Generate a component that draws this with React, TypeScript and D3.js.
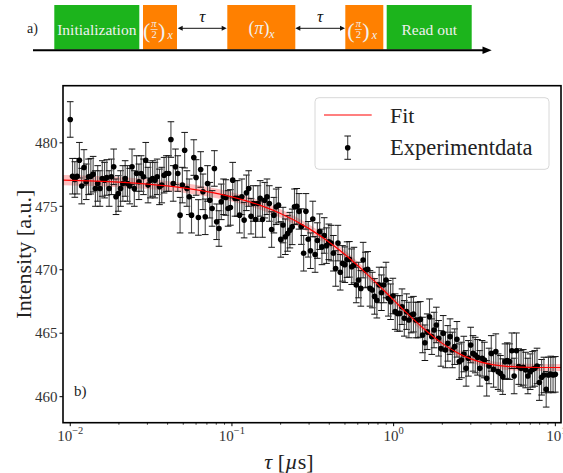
import React from 'react';
import * as d3 from 'd3';

const W = 563;
const H = 473;
const FONT = '"Liberation Serif", "DejaVu Serif", serif';
const fs = (size: number, extra: any = {}) => ({ fontFamily: FONT, fontSize: size + 'px', ...extra });

// ---- Data ----
const tauFirst = 0.01;
const tauLast = 10;
const intensity = [
  481.84, 477.37, 477.11, 477.37, 478.63, 476.59, 478.06, 476.93, 477.32, 477.37,
  477.53, 476.40, 476.80, 476.40, 477.19, 477.06, 477.27, 476.40, 477.32, 478.11,
  475.75, 476.01, 476.40, 476.80, 477.19, 476.80, 476.59, 478.11, 476.40, 477.58,
  476.93, 477.58, 477.32, 478.63, 476.67, 477.06, 477.19, 477.06, 477.32, 476.53,
  476.67, 477.45, 477.58, 477.58, 480.26, 476.80, 478.11, 477.58, 474.30, 476.67,
  479.42, 476.40, 475.75, 474.30, 478.84, 477.27, 474.12, 477.90, 476.14, 474.17,
  476.80, 475.48, 474.83, 477.98, 473.78, 473.25, 475.35, 475.75, 475.69, 474.83,
  474.91, 477.06, 475.62, 475.62, 474.30, 475.75, 473.91, 476.06, 476.40, 474.22,
  475.22, 473.96, 475.22, 475.62, 473.96, 475.48, 475.75, 475.22, 473.17, 474.30,
  474.96, 475.09, 472.39, 473.52, 472.60, 472.86, 473.12, 473.38, 474.96,
  475.0, 474.6, 473.4, 471.3, 474.6, 472.4, 471.5, 474.0, 471.2, 472.3,
  473.0, 471.8, 472.7, 471.9, 472.2, 472.1, 471.3, 470.1, 472.1, 469.8,
  470.5, 470.4, 470.8,
  470.82, 470.24, 470.37, 468.80, 469.19, 468.53, 470.76, 469.98, 470.03, 468.53,
  468.40, 467.90, 467.60, 468.80, 468.19, 468.80, 469.19, 467.75, 467.48, 467.93,
  466.70, 466.56, 466.56, 467.09, 466.17, 466.70, 466.04, 466.43, 466.50, 466.04,
  466.04, 466.09, 464.86, 464.25, 465.12, 466.30, 464.73, 465.25, 465.65, 464.60,
  463.80, 464.99,
  463.68, 464.20, 464.73, 463.68, 463.94, 464.52, 462.76, 462.89, 463.36, 462.23,
  463.02, 464.07, 463.41, 463.28, 463.10, 462.23, 463.02, 462.89, 461.45, 462.42,
  463.41, 462.15, 463.55, 461.97, 461.84, 461.58, 462.76, 462.84, 462.76, 463.62,
  461.63, 463.62, 462.37, 462.23, 462.31, 462.10, 461.63, 461.97, 462.15, 462.23,
  462.42, 461.11, 461.53, 461.71, 460.58, 461.71, 461.79, 461.71, 461.76,
];
const errorHalf = 1.4;

const fitTau = [0.009, 0.02, 0.03, 0.05, 0.1, 0.15, 0.2, 0.3, 0.4, 0.5, 0.7, 1.0, 1.2, 1.5, 2, 2.5, 3, 4, 5, 6, 8, 11];
const fitIntensity = [477.06, 476.90, 476.75, 476.45, 475.74, 475.07, 474.43, 473.24, 472.17, 471.20, 469.54, 467.61, 466.62, 465.47, 464.20, 463.43, 462.98, 462.54, 462.39, 462.33, 462.30, 462.30];
const fitBand = [0.4, 0.4, 0.39, 0.38, 0.36, 0.35, 0.34, 0.33, 0.32, 0.32, 0.31, 0.3, 0.3, 0.3, 0.29, 0.29, 0.29, 0.28, 0.28, 0.28, 0.28, 0.28];

const yTicks = [460, 465, 470, 475, 480];
const xMajor = [0.01, 0.1, 1, 10];
const xMajorExp = ['\u22122', '\u22121', '0', '1'];

const BOXTXT = '#f0f0f0';

function FracLabel({ cx }: { cx: number }) {
  return (
    <g fill={BOXTXT}>
      <text x={cx - 17} y={37.5} style={fs(22)}>(</text>
      <text x={cx - 6} y={27} textAnchor="middle" style={fs(10.5, { fontStyle: 'italic' })}>π</text>
      <line x1={cx - 9.5} x2={cx - 2.5} y1={29.5} y2={29.5} stroke={BOXTXT} strokeWidth={0.7} />
      <text x={cx - 6} y={38} textAnchor="middle" style={fs(10.5)}>2</text>
      <text x={cx - 2} y={37.5} style={fs(22)}>)</text>
      <text x={cx + 7.5} y={39} style={fs(12, { fontStyle: 'italic' })}>x</text>
    </g>
  );
}

export default function App() {
  const n = intensity.length;
  const l0 = Math.log10(tauFirst);
  const l1 = Math.log10(tauLast);
  const tau = intensity.map((_, i) => Math.pow(10, l0 + (i * (l1 - l0)) / (n - 1)));

  const left = 63, right = 561, top = 85.7, bottom = 422.7;
  const x = d3.scaleLog().domain([0.00902, 10.84]).range([left, right]);
  const y = d3.scaleLinear().domain([457.95, 484.5]).range([bottom, top]);

  const fitPts = fitTau.map((t, i) => ({ t, v: fitIntensity[i], b: fitBand[i] }));
  const line = d3.line<any>().x(d => x(d.t)).y(d => y(d.v)).curve(d3.curveMonotoneX);
  const area = d3.area<any>().x(d => x(d.t)).y0(d => y(d.v - d.b)).y1(d => y(d.v + d.b)).curve(d3.curveMonotoneX);

  const minor = x.ticks().filter(t => !xMajor.some(m => Math.abs(m - t) / m < 1e-6));

  const green = '#1cb41c';
  const orange = '#ff8000';

  return (
    <svg width={W} height={H} style={{ position: 'absolute', left: 0, top: 0, background: '#fff' }}>
      {/* ---- Pulse sequence ---- */}
      <text x={27} y={33} style={fs(14)} fill="#222">a)</text>
      <rect x={54.3} y={5} width={85} height={44.5} fill={green} />
      <text x={96.8} y={34.5} textAnchor="middle" style={fs(15.5)} fill={BOXTXT}>Initialization</text>
      <rect x={143} y={5} width={34} height={44.5} fill={orange} />
      <FracLabel cx={160} />
      <rect x={227.3} y={5} width={68} height={44.5} fill={orange} />
      <g fill={BOXTXT}>
        <text x={248.5} y={34} style={fs(18)}>(<tspan style={{ fontStyle: 'italic' }}>π</tspan>)</text>
        <text x={269} y={38} style={fs(12.5, { fontStyle: 'italic' })}>x</text>
      </g>
      <rect x={345.3} y={5} width={38} height={44.5} fill={orange} />
      <FracLabel cx={364.3} />
      <rect x={386.7} y={5} width={85} height={44.5} fill={green} />
      <text x={429.2} y={34.5} textAnchor="middle" style={fs(15.5)} fill={BOXTXT}>Read out</text>

      {[[177.7, 226.7], [295.3, 345]].map(([a, b], i) => (
        <g key={i}>
          <line x1={a + 3} x2={b - 3} y1={28.3} y2={28.3} stroke="#111" strokeWidth={1} />
          <path d={`M${a},28.3 L${a + 5},25.8 L${a + 5},30.8 Z`} fill="#111" />
          <path d={`M${b},28.3 L${b - 5},25.8 L${b - 5},30.8 Z`} fill="#111" />
          <text x={(a + b) / 2} y={21.5} textAnchor="middle" style={fs(17, { fontStyle: 'italic' })} fill="#111">τ</text>
        </g>
      ))}
      <line x1={33} x2={485} y1={50.3} y2={50.3} stroke="#000" strokeWidth={2} />
      <path d="M491.7,50.3 L482.5,46.6 L482.5,54 Z" fill="#000" />

      {/* ---- Plot ---- */}
      <defs>
        <clipPath id="plotclip">
          <rect x={left} y={top} width={right - left} height={bottom - top} />
        </clipPath>
      </defs>
      <g clipPath="url(#plotclip)">
        <path d={area(fitPts) || ''} fill="#ff0000" fillOpacity={0.25} />
        {intensity.map((v, i) => (
          <g key={'e' + i}>
            <line x1={x(tau[i])} x2={x(tau[i])} y1={y(v - errorHalf)} y2={y(v + errorHalf)} stroke="#4a4a4a" strokeWidth={1.1} />
            <line x1={x(tau[i]) - 3.3} x2={x(tau[i]) + 3.3} y1={y(v - errorHalf)} y2={y(v - errorHalf)} stroke="#111" strokeWidth={1} />
            <line x1={x(tau[i]) - 3.3} x2={x(tau[i]) + 3.3} y1={y(v + errorHalf)} y2={y(v + errorHalf)} stroke="#111" strokeWidth={1} />
          </g>
        ))}
        {intensity.map((v, i) => (
          <circle key={'p' + i} cx={x(tau[i])} cy={y(v)} r={2.8} fill="#000" />
        ))}
        <path d={line(fitPts) || ''} fill="none" stroke="#ff0000" strokeWidth={1.2} />
      </g>

      {/* axes frame */}
      <rect x={left} y={top} width={right - left} height={bottom - top} fill="none" stroke="#000" strokeWidth={1.6} />

      {/* y ticks */}
      {yTicks.map(t => (
        <g key={'y' + t}>
          <line x1={left - 3.5} x2={left} y1={y(t)} y2={y(t)} stroke="#000" strokeWidth={1} />
          <text x={57.5} y={y(t)} dy="0.35em" textAnchor="end" style={fs(15)} fill="#333">{t}</text>
        </g>
      ))}
      {/* x ticks */}
      {xMajor.map((t, i) => (
        <g key={'x' + t}>
          <line x1={x(t)} x2={x(t)} y1={bottom} y2={bottom + 3.5} stroke="#000" strokeWidth={1} />
          <text x={x(t) + (i === 3 ? 1 : 0)} y={440.5} textAnchor="middle" style={fs(15)} fill="#333">
            10<tspan dy={-6.5} style={{ fontSize: '10.5px' }}>{xMajorExp[i]}</tspan>
          </text>
        </g>
      ))}
      {minor.map(t => (
        <line key={'m' + t} x1={x(t)} x2={x(t)} y1={bottom} y2={bottom + 2} stroke="#000" strokeWidth={0.8} />
      ))}

      {/* axis labels */}
      <text x={289} y={469} textAnchor="middle" style={fs(22)} fill="#222">
        <tspan style={{ fontStyle: 'italic' }}>τ</tspan> [<tspan style={{ fontStyle: 'italic' }}>µ</tspan>s]
      </text>
      <text transform={`translate(31,${(top + bottom) / 2}) rotate(-90)`} textAnchor="middle" style={fs(22)} fill="#222">Intensity [a.u.]</text>

      <text x={74} y={396} style={fs(15)} fill="#222">b)</text>

      {/* legend */}
      <rect x={315} y={97.7} width={234} height={71.6} rx={4} fill="#fff" fillOpacity={0.8} stroke="#d8d8d8" strokeWidth={1} />
      <line x1={324} x2={371.7} y1={115} y2={115} stroke="#ff0000" strokeWidth={1.2} />
      <text x={390} y={123} style={fs(22)} fill="#222">Fit</text>
      <line x1={347.7} x2={347.7} y1={136} y2={159.3} stroke="#4a4a4a" strokeWidth={1.1} />
      <line x1={344.4} x2={351} y1={136} y2={136} stroke="#111" strokeWidth={1} />
      <line x1={344.4} x2={351} y1={159.3} y2={159.3} stroke="#111" strokeWidth={1} />
      <circle cx={347.7} cy={147.7} r={2.8} fill="#000" />
      <text x={390} y={155} style={fs(22.5)} fill="#222">Experimentdata</text>
    </svg>
  );
}
